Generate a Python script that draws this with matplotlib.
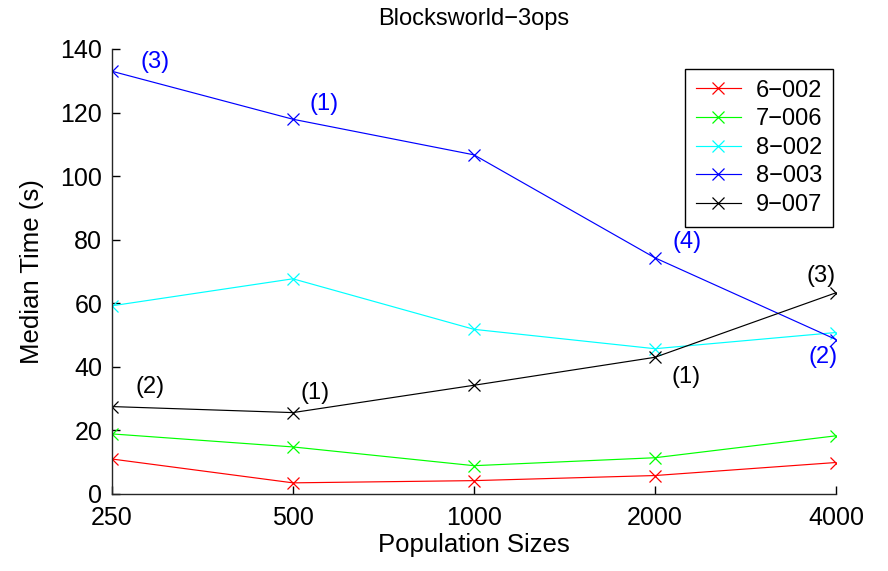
import matplotlib
matplotlib.use("Agg")
import matplotlib.pyplot as plt

plt.rcParams['font.family'] = ['Liberation Sans', 'DejaVu Sans']

pop_sizes = ['250', '500', '1000', '2000', '4000']
series_names = ['6\u2212002', '7\u2212006', '8\u2212002', '8\u2212003', '9\u2212007']
colors = ['#ff0000', '#00ff00', '#00ffff', '#0000ff', '#000000']
s6_002 = [11.0, 3.5, 4.2, 5.8, 9.9]
s7_006 = [18.9, 14.8, 8.9, 11.4, 18.3]
s8_002 = [59.2, 67.7, 51.8, 45.7, 50.8]
s8_003 = [133.0, 117.9, 106.7, 74.3, 48.6]
s9_007 = [27.5, 25.6, 34.2, 43.0, 63.3]
all_series = [s6_002, s7_006, s8_002, s8_003, s9_007]

ann_8_003 = ['(3)', '(1)', '', '(4)', '(2)']
ann_9_007 = ['(2)', '(1)', '', '(1)', '(3)']

fig = plt.figure(figsize=(8.88, 5.71), dpi=100)
ax = fig.add_axes([0.126, 0.1349, 0.8154, 0.7793])

x = list(range(len(pop_sizes)))
for vals, name, c in zip(all_series, series_names, colors):
    ax.plot(x, vals, color=c, marker='x', markersize=8, markeredgewidth=0.9,
            linewidth=0.85, label=name)

blue_off = [(43, 9), (31, 15), (0, 0), (32, 16), (-13, -17)]
black_off = [(38, 20), (22, 20), (0, 0), (31, -20), (-15, 17)]
for i, t in enumerate(ann_8_003):
    if t:
        ax.annotate(t, (x[i], s8_003[i]), xytext=blue_off[i], textcoords='offset pixels',
                    color='#0000ff', fontsize=17, ha='center', va='center')
for i, t in enumerate(ann_9_007):
    if t:
        ax.annotate(t, (x[i], s9_007[i]), xytext=black_off[i], textcoords='offset pixels',
                    color='#000000', fontsize=17, ha='center', va='center')

ax.set_xlim(0, 4)
ax.set_ylim(0, 140)
ax.set_xticks(x)
ax.set_xticklabels(pop_sizes)
ax.set_yticks(range(0, 141, 20))
ax.tick_params(direction='in', length=6, width=1, labelsize=18, colors='black')
ax.tick_params(axis='x', pad=9)
ax.tick_params(axis='y', pad=7)
for s in ['top', 'right']:
    ax.spines[s].set_visible(False)
for s in ['left', 'bottom']:
    ax.spines[s].set_linewidth(1)
    ax.spines[s].set_color('#262626')

ax.set_xlabel('Population Sizes', fontsize=18.5, labelpad=2)
ax.set_ylabel('Median Time (s)', fontsize=18.5, labelpad=12)
ax.set_title('Blocksworld\u22123ops', fontsize=17, pad=17)

leg = ax.legend(loc='upper right', bbox_to_anchor=(0.996, 0.955), borderaxespad=0,
                fontsize=17, fancybox=False, edgecolor='black', framealpha=1,
                handlelength=1.9, borderpad=0.45, labelspacing=0.28, handletextpad=0.65)
leg.get_frame().set_linewidth(1)

fig.savefig('out.png', dpi=100)
